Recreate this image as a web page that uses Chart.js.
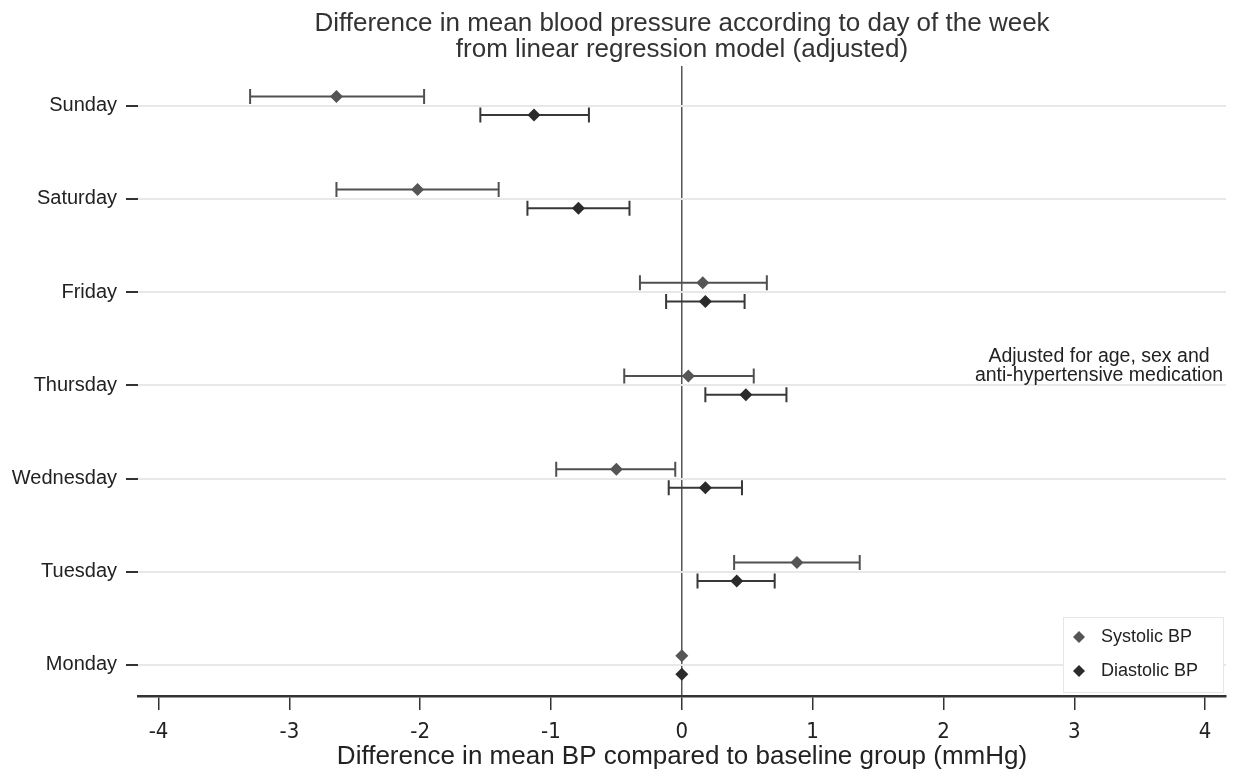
<!DOCTYPE html>
<html>
<head>
<meta charset="utf-8">
<script src="https://cdn.jsdelivr.net/npm/chart.js@4/dist/chart.umd.min.js"></script>
<style>
  html, body { margin: 0; padding: 0; background: #fff; }
  #wrap { width: 1237px; height: 772px; position: relative; }
</style>
</head>
<body>
<div id="wrap"><canvas id="bpChart"></canvas></div>
<script>
// days from bottom (0) to top (6)
const days = ['Monday', 'Tuesday', 'Wednesday', 'Thursday', 'Friday', 'Saturday', 'Sunday'];
const xTicks = [-4, -3, -2, -1, 0, 1, 2, 3, 4];

const sysMean = [0, 0.88, -0.50, 0.05, 0.16, -2.02, -2.64];
const sysLow  = [null, 0.40, -0.96, -0.44, -0.32, -2.64, -3.30];
const sysHigh = [null, 1.36, -0.05, 0.55, 0.65, -1.40, -1.97];

const diaMean = [0, 0.42, 0.18, 0.49, 0.18, -0.79, -1.13];
const diaLow  = [null, 0.12, -0.10, 0.18, -0.12, -1.18, -1.54];
const diaHigh = [null, 0.71, 0.46, 0.80, 0.48, -0.40, -0.71];

const sysColor = '#555555';
const diaColor = '#2b2b2b';
const rowOffset = 0.1;

const toPoints = (vals, off) => vals.map((v, i) => ({ x: v, y: i + off }));

// whiskers drawn under the diamonds
const errorBars = {
  id: 'errorBars',
  beforeDatasetsDraw(chart) {
    const { ctx, scales: { x, y } } = chart;
    const sets = [
      { lo: sysLow, hi: sysHigh, off: rowOffset, color: '#505050' },
      { lo: diaLow, hi: diaHigh, off: -rowOffset, color: '#383838' }
    ];
    ctx.save();
    ctx.lineWidth = 2;
    sets.forEach(s => {
      ctx.strokeStyle = s.color;
      s.lo.forEach((lo, i) => {
        if (lo === null) return;
        const py = y.getPixelForValue(i + s.off);
        const x1 = x.getPixelForValue(lo);
        const x2 = x.getPixelForValue(s.hi[i]);
        ctx.beginPath();
        ctx.moveTo(x1, py); ctx.lineTo(x2, py);
        ctx.moveTo(x1, py - 7.5); ctx.lineTo(x1, py + 7.5);
        ctx.moveTo(x2, py - 7.5); ctx.lineTo(x2, py + 7.5);
        ctx.stroke();
      });
    });
    ctx.restore();
  }
};

// note text and legend box inside the plot
const extras = {
  id: 'extras',
  afterDraw(chart) {
    const { ctx } = chart;
    ctx.save();
    ctx.fillStyle = '#222';
    ctx.font = '19.5px "Liberation Sans", Arial, sans-serif';
    ctx.textAlign = 'center';
    ctx.textBaseline = 'middle';
    ctx.fillText('Adjusted for age, sex and', 1099, 357);
    ctx.fillText('anti-hypertensive medication', 1099, 376);

    // legend
    const bx = 1063, by = 617, bw = 160, bh = 75;
    ctx.fillStyle = '#fff';
    ctx.fillRect(bx, by, bw, bh);
    ctx.strokeStyle = '#e6e6e6';
    ctx.lineWidth = 1;
    ctx.strokeRect(bx + 0.5, by + 0.5, bw, bh);
    ctx.font = '18px "Liberation Sans", Arial, sans-serif';
    chart.data.datasets.forEach((ds, k) => {
      const cy = 637 + k * 34;
      ctx.fillStyle = ds.backgroundColor;
      ctx.beginPath();
      ctx.moveTo(1079, cy - 6); ctx.lineTo(1085, cy); ctx.lineTo(1079, cy + 6); ctx.lineTo(1073, cy);
      ctx.closePath();
      ctx.fill();
      ctx.fillStyle = '#222';
      ctx.textAlign = 'left';
      ctx.fillText(ds.label, 1101, cy);
    });
    ctx.restore();
  }
};

const chart = new Chart(document.getElementById('bpChart'), {
  type: 'scatter',
  data: {
    datasets: [
      {
        label: 'Systolic BP',
        data: toPoints(sysMean, rowOffset),
        pointStyle: 'rectRot',
        pointRadius: 6.5,
        backgroundColor: sysColor,
        borderColor: sysColor,
        borderWidth: 0
      },
      {
        label: 'Diastolic BP',
        data: toPoints(diaMean, -rowOffset),
        pointStyle: 'rectRot',
        pointRadius: 6.5,
        backgroundColor: diaColor,
        borderColor: diaColor,
        borderWidth: 0
      }
    ]
  },
  options: {
    responsive: true,
    maintainAspectRatio: false,
    animation: false,
    layout: { padding: { left: 0, right: 11, top: 0, bottom: 0 } },
    plugins: {
      legend: { display: false },
      tooltip: { enabled: false },
      title: {
        display: true,
        fullSize: false,
        text: ['Difference in mean blood pressure according to day of the week',
               'from linear regression model (adjusted)'],
        color: '#333',
        font: { family: '"Liberation Sans", Arial, sans-serif', size: 26, weight: 'normal', lineHeight: 1.0 },
        padding: { top: 11, bottom: 3 }
      }
    },
    scales: {
      x: {
        type: 'linear',
        min: -4.157,
        max: 4.16,
        afterBuildTicks: s => { s.ticks = xTicks.map(v => ({ value: v })); },
        afterFit: s => { s.height = 76; },
        border: { display: true, color: '#333', width: 2.5 },
        grid: {
          color: c => (c.tick && c.tick.value === 0 ? '#555' : 'rgba(0,0,0,0)'),
          lineWidth: 1.5,
          tickColor: '#333',
          tickLength: 14,
          tickWidth: 1.5
        },
        ticks: {
          color: '#222',
          padding: 9,
          maxRotation: 0,
          font: { family: '"Liberation Sans Narrow", "DejaVu Sans Condensed", Arial, sans-serif', size: 22 }
        },
        title: {
          display: true,
          text: 'Difference in mean BP compared to baseline group (mmHg)',
          color: '#222',
          font: { family: '"Liberation Sans", Arial, sans-serif', size: 26 },
          padding: { top: 0, bottom: 0 }
        }
      },
      y: {
        type: 'linear',
        min: -0.333,
        max: 6.426,
        afterBuildTicks: s => { s.ticks = days.map((_, i) => ({ value: i })); },
        afterFit: s => { s.width = 138; },
        border: { display: false },
        grid: {
          color: '#e8e8e8',
          lineWidth: 2,
          tickColor: '#333',
          tickLength: 12,
          tickWidth: 2
        },
        ticks: {
          color: '#222',
          padding: 9,
          callback: v => days[v],
          font: { family: '"Liberation Sans", Arial, sans-serif', size: 20 }
        }
      }
    }
  },
  plugins: [errorBars, extras]
});
</script>
</body>
</html>
